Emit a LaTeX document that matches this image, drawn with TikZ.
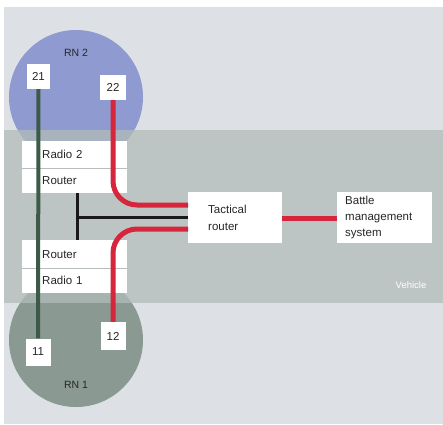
\documentclass[tikz,border=0pt]{standalone}
\usepackage{fontspec}
\setmainfont{Liberation Sans}
\definecolor{panel}{HTML}{DDE1E5}
\definecolor{band}{HTML}{B2BCB8}
\definecolor{rntwo}{HTML}{8F9AD0}
\definecolor{rnone}{HTML}{8A9A93}
\definecolor{gline}{HTML}{3D5A48}
\definecolor{rline}{HTML}{D6263C}
\definecolor{divider}{HTML}{B8BEC0}
\definecolor{txt}{HTML}{262626}
\tikzset{
  box/.style={fill=white, draw=none, anchor=north west, inner ysep=0pt, align=left, text=txt,
    font=\fontsize{11.5}{15}\selectfont},
  numbox/.style={fill=white, draw=none, minimum width=23pt, minimum height=25pt, inner sep=0pt,
    text=txt, font=\fontsize{11.5}{13}\selectfont},
  redc/.style={draw=rline, line width=5pt, rounded corners=24pt},
  greenc/.style={draw=gline, line width=4pt},
  blackc/.style={draw=black!90, line width=3pt},
}
\begin{document}
\begin{tikzpicture}[x=1pt,y=-1pt]
\useasboundingbox (0,0) rectangle (443,424);
\fill[white] (0,0) rectangle (443,424);
\fill[panel] (4,7) rectangle (443,424);
% circles
\fill[rntwo] (76,97) circle (67);
\fill[rnone] (76,340) circle (67);
% vehicle band
\fill[band, opacity=0.75] (4,130) rectangle (443,303);
\node[text=white, font=\fontsize{9.5}{10}\selectfont] (veh) at (411,285) {Vehicle};
% RN labels
\node[text=txt, font=\fontsize{10.5}{12}\selectfont] (rn2) at (76,53) {RN 2};
\node[text=txt, font=\fontsize{10.5}{12}\selectfont] (rn1) at (76,385) {RN 1};
% stacked boxes
\node[box, minimum height=27pt, text width=65pt, inner xsep=20pt] (radio2) at (22,141) {Radio 2};
\node[box, minimum height=25pt, text width=65pt, inner xsep=20pt] (router2) at (22,168) {Router};
\node[box, minimum height=28pt, text width=65pt, inner xsep=20pt] (router1) at (22,240) {Router};
\node[box, minimum height=25pt, text width=65pt, inner xsep=20pt] (radio1) at (22,268) {Radio 1};
\draw[divider, line width=0.6pt] (radio2.south west) -- (radio2.south east);
\draw[divider, line width=0.6pt] (router1.south west) -- (router1.south east);
% tactical router and battle management
\node[box, minimum height=51pt, text width=54pt, inner xsep=20pt, font=\fontsize{11.5}{17}\selectfont] (tact) at (188,192) {Tactical\\router};
\node[box, minimum height=51pt, text width=79pt, inner xsep=8pt, font=\fontsize{11.5}{16}\selectfont] (bms) at (337,192) {Battle\\management\\system};
% number boxes
\node[numbox] (n21) at (38.5,76.5) {21};
\node[numbox, minimum width=26pt] (n22) at (113,87.5) {22};
\node[numbox, minimum width=25pt, minimum height=27pt] (n11) at (38,352) {11};
\node[numbox, minimum width=25pt, minimum height=28pt] (n12) at (113,336) {12};
% connectors
\draw[greenc] (n21.south) -- (n11.north);
\draw[blackc] (77,193) -- (77,240);
\coordinate (bj) at (77,217);
\draw[blackc] (bj) -- (tact.west |- bj);
\draw[redc] (n22.south) |- (tact.west |- 0,205);
\draw[redc] (n12.north) |- (tact.west |- 0,229);
\draw[redc, rounded corners=0pt] (tact.east |- 0,218) -- (bms.west |- 0,218);
\end{tikzpicture}
\end{document}
